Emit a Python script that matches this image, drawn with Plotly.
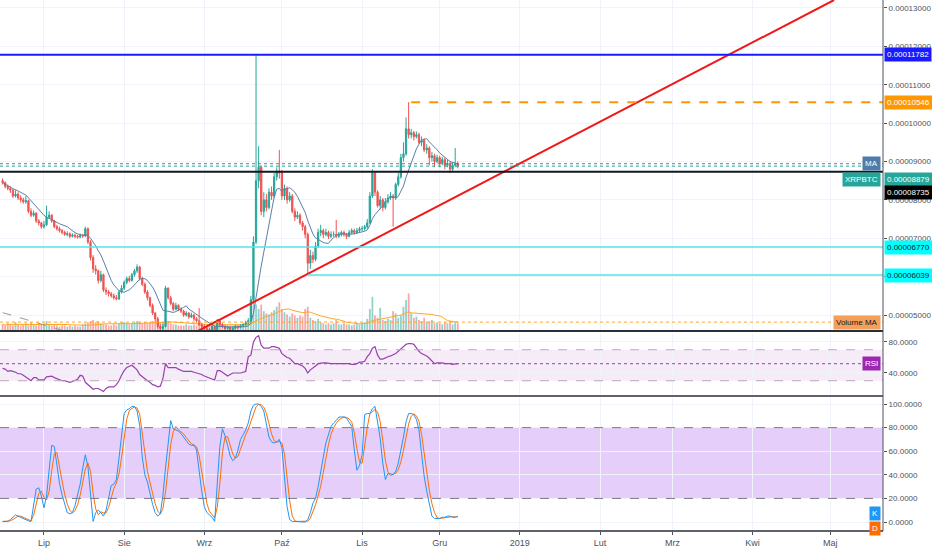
import pandas as pd
import plotly.graph_objects as go

FONT = "Liberation Sans"
SAT = 1e-8

# daily candles XRPBTC, values in satoshi, first candle 2018-06-15
start = "2018-06-15"
first_open = 8500
close = [
    8450, 8350, 8300, 8250, 8100, 8150, 8050, 8000, 7950, 7980, 7700, 7600, 7650, 7450, 7400, 7300,
    7350, 7550, 7600, 7450, 7300, 7250, 7200, 7150, 7100, 7120, 7050, 7080, 7050, 7030, 7070, 7060,
    7250, 6900, 6500, 6200, 6150, 5900, 6050, 5650, 5600, 5550, 5500, 5450, 5420, 5600, 5700,
    5850, 5950, 5900, 6050, 6150, 6250, 5950, 5800, 5600, 5450, 5250, 5050, 4900, 4700, 4650, 4700,
    5700, 5450, 5300, 5150, 5250, 5150, 5100, 5000, 5050, 4950, 5000, 4900, 4850, 4750, 4700,
    4650, 4620, 4600, 4700, 4620, 4850, 4750, 4700, 4650, 4680, 4620, 4650, 4700, 4680, 4720, 4750, 4800,
    4850, 5400, 6900, 8500, 8850, 7700, 8000, 7800, 8200, 8100, 8600, 8750, 8700,
    8100, 8300, 8000, 8100, 7700, 7550, 7600, 7400, 7300, 7100, 6350, 6550, 6450, 6800, 7150, 7200,
    7100, 7150, 7050, 7100, 7100, 7050, 7100, 7150, 7100, 7050, 7150, 7200, 7150, 7200, 7250,
    7250, 7300, 7400, 8100, 8700, 8200, 7850, 8000, 7800, 7950, 8050, 8100, 8050, 8400, 8600,
    9100, 9200, 9850, 9700, 9750, 9650, 9700, 9500, 9550, 9300, 9350, 9100, 9150, 9000, 9100,
    8950, 9050, 8900, 8950, 8800, 8900, 8950, 8879,
]
high = [
    8560, 8480, 8400, 8350, 8280, 8250, 8200, 8120, 8060, 8100,
    8000, 7780, 7720, 7680, 7500, 7430, 7450, 7850, 7700, 7630,
    7480, 7350, 7300, 7240, 7200, 7180, 7150, 7130, 7120, 7090,
    7120, 7110, 7300, 7280, 6950, 6560, 6300, 6180, 6150, 6080,
    5720, 5650, 5600, 5560, 5520, 5650, 5780, 5900, 6000, 6020,
    6100, 6200, 6320, 6280, 6000, 5850, 5650, 5480, 5300, 5080,
    4950, 4760, 4780, 5760, 5720, 5500, 5340, 5320, 5280, 5200,
    5140, 5100, 5080, 5060, 5030, 4950, 5180, 4800, 4750, 4700,
    4660, 4750, 4720, 4900, 4870, 4790, 4730, 4720, 4700, 4690,
    4740, 4730, 4760, 4790, 4850, 4920, 5500, 7050, 11782, 9400,
    8900, 8200, 8150, 8300, 8350, 8700, 8850, 9300, 8780, 8400,
    8350, 8200, 8150, 7780, 7700, 7650, 7450, 7350, 7150, 6700,
    6650, 6900, 7250, 7350, 7250, 7250, 7200, 7180, 7180, 7480,
    7160, 7200, 7200, 7140, 7220, 7260, 7250, 7270, 7300, 7320,
    7350, 7500, 8200, 8800, 8750, 8250, 8100, 8050, 8050, 8150,
    8200, 8150, 8450, 8700, 9200, 9500, 10150, 10546, 9850, 9800,
    9780, 9750, 9650, 9600, 9450, 9400, 9250, 9200, 9180, 9150,
    9120, 9100, 9050, 9000, 8980, 9350, 9000,
]
low = [
    8400, 8300, 8250, 8180, 8050, 8060, 8000, 7930, 7900, 7900,
    7650, 7550, 7560, 7400, 7330, 7250, 7250, 7320, 7500, 7400,
    7260, 7200, 7150, 7100, 7060, 7050, 7000, 7020, 7000, 6990,
    7000, 7010, 7030, 6850, 6420, 6100, 6050, 5820, 5850, 5600,
    5520, 5480, 5450, 5400, 5380, 5390, 5560, 5650, 5800, 5850,
    5870, 6000, 6100, 5900, 5750, 5550, 5380, 5200, 5000, 4820,
    4650, 4600, 4610, 4680, 5400, 5250, 5100, 5120, 5100, 5050,
    4950, 4960, 4900, 4920, 4850, 4800, 4720, 4650, 4600, 4590,
    4570, 4580, 4590, 4600, 4700, 4660, 4610, 4620, 4590, 4600,
    4620, 4640, 4650, 4690, 4720, 4760, 4830, 5350, 6850, 8300,
    7600, 7550, 7700, 7750, 8000, 8050, 8500, 8550, 8000, 8000,
    7900, 7950, 7650, 7450, 7500, 7350, 7200, 7000, 6040, 6200,
    6350, 6400, 6750, 7050, 7000, 7050, 6980, 7000, 7040, 7000,
    7010, 7050, 7040, 6980, 7020, 7100, 7100, 7120, 7150, 7180,
    7200, 7250, 7380, 8050, 8100, 7800, 7750, 7700, 7750, 7900,
    8000, 7300, 8000, 8350, 8550, 9000, 9150, 9600, 9600, 9550,
    9600, 9450, 9400, 9250, 9200, 8900, 9000, 8850, 8950, 8850,
    8900, 8800, 8850, 8700, 8750, 8850, 8820,
]
volume = [
    6, 5, 7, 6, 5, 8, 6, 5, 6, 7, 5, 8, 6, 5, 7, 6,
    7, 9, 6, 5, 6, 5, 4, 5, 5, 4, 5, 4, 5, 4, 4, 6,
    7, 8, 9, 10, 8, 9, 7, 6, 6, 5, 5, 6, 5, 7, 8,
    8, 7, 6, 7, 8, 9, 8, 7, 8, 7, 8, 9, 8, 9, 8, 7,
    11, 9, 7, 6, 6, 5, 5, 5, 6, 5, 5, 6, 5, 7, 6,
    6, 5, 6, 5, 5, 7, 5, 5, 6, 5, 5, 5, 6, 5, 5, 6, 6,
    10, 14, 33, 24, 20, 24, 18, 16, 15, 17, 19, 22, 26,
    20, 17, 15, 13, 16, 14, 12, 14, 13, 20, 22, 12, 10, 9, 11, 8,
    7, 6, 7, 6, 7, 10, 6, 6, 7, 6, 6, 5, 6, 7, 6,
    7, 8, 11, 20, 31, 14, 12, 21, 10, 9, 11, 10, 18, 16, 12,
    14, 22, 28, 34, 16, 12, 13, 10, 9, 12, 8, 9, 10, 7, 8,
    7, 6, 8, 7, 9, 6, 8, 7,
]
long_ma = [5060, 5045, 5020, 5005, 4985, 4960, 4945, 4925, 4900, 4885, 4860, 4845,
           4820, 4800, 4785, 4760, 4745, 4720, 4700, 4685, 4660, 4640, 4620, 4600]
rsi = [
    46, 45, 42, 43, 42, 41, 39, 39, 37, 35, 33, 30, 34, 34, 31, 31, 31, 35, 36, 36,
    34, 33, 31, 30, 30, 29, 28, 29, 30, 32, 37, 36, 28, 25, 22, 19, 20, 20, 18, 16,
    20, 22, 22, 22, 25, 30, 37, 43, 47, 49, 50, 47, 44, 38, 35, 32, 30, 28, 25, 24,
    22, 23, 33, 52, 47, 47, 47, 47, 45, 43, 42, 42, 42, 42, 41, 40, 40, 38, 36, 35,
    34, 32, 31, 43, 43, 41, 38, 36, 38, 40, 40, 40, 40, 41, 42, 61, 63, 80, 86, 88,
    76, 72, 72, 72, 74, 74, 73, 72, 65, 62, 60, 59, 55, 52, 52, 51, 49, 46, 40, 44,
    46, 49, 52, 53, 53, 53, 52, 52, 52, 52, 52, 52, 52, 52, 52, 51, 51, 52, 54, 54,
    55, 61, 65, 72, 74, 63, 58, 58, 60, 61, 62, 63, 65, 68, 71, 73, 77, 78, 78, 77,
    72, 68, 65, 64, 62, 59, 55, 52, 53, 53, 53, 52, 52, 52, 51, 52, 52,
]
stoch_k = [
    0.5, 0.5, 0.5, 2, 4, 6, 5, 4, 3, 1.5, 1, 0.5, 16, 28, 29, 22, 12, 22, 44, 65,
    64, 48, 33, 23, 15, 8, 7, 8, 14, 22, 32, 46, 57, 47, 25, 0.5, 8, 10, 8, 5,
    10, 22, 31, 32, 36, 54, 74, 92, 95, 96, 98, 98, 94, 82, 55, 40, 34, 24, 15, 8,
    5, 7, 23, 46, 65, 86, 79, 78, 77, 75, 72, 68, 66, 65, 65, 61, 43, 26, 13, 8,
    6, 4, 0.5, 33, 64, 79, 73, 65, 56, 52, 54, 61, 70, 74, 78, 84, 94, 99, 100, 100,
    98, 94, 84, 72, 68, 67, 68, 70, 63, 39, 13, 2, 0.5, 0.5, 0.5, 0.5, 0.3, 0, 2, 8,
    16, 20, 30, 41, 55, 67, 75, 81, 84, 86, 89, 89, 89, 88, 85, 81, 61, 44, 48, 57,
    91, 92, 92, 96, 98, 86, 71, 50, 36, 41, 41, 40, 43, 50, 60, 72, 85, 92, 92, 91,
    87, 78, 58, 39, 26, 16, 5, 3, 3, 3, 4, 4, 5, 5, 4, 4, 5,
]

# drawn levels (satoshi)
blue_level = 11782
orange_level = 10546
orange_from = "2018-11-20"
black_level = 8735
cyan_levels = [6770, 6039]
cyan_from = [None, "2018-10-11"]
trend_dates = ["2018-08-29 13:00", "2019-05-02 12:00"]
trend_vals = [4583, 13208]

month_ticks = ["2018-07-01", "2018-08-01", "2018-09-01", "2018-10-01", "2018-11-01", "2018-12-01",
               "2019-01-01", "2019-02-01", "2019-03-01", "2019-04-01", "2019-05-01"]
month_labels = ["Lip", "Sie", "Wrz", "Paź", "Lis", "Gru", "2019", "Lut", "Mrz", "Kwi", "Maj"]

x_end = "2019-05-21 10:00"

dates = pd.date_range(start, periods=len(close), freq="D")
opens = [first_open] + close[:-1]
ma = pd.Series(close).rolling(9, min_periods=1).mean()
vol_ma = pd.Series(volume).rolling(15, min_periods=1).mean()
stoch_d = pd.Series(stoch_k).rolling(3, min_periods=1).mean()

GREEN = "#26a69a"
RED = "#ef5350"
vol_colors = ["rgba(38,166,154,0.5)" if c >= o else "rgba(239,83,80,0.5)" for o, c in zip(opens, close)]

fig = go.Figure()
fig.add_trace(go.Bar(x=dates, y=volume, marker_color=vol_colors, marker_line_width=0,
                     xaxis="x", yaxis="y", showlegend=False))
fig.add_trace(go.Scatter(x=dates, y=vol_ma, mode="lines", line=dict(color="#ffa726", width=1),
                         xaxis="x", yaxis="y", showlegend=False))
fig.add_trace(go.Scatter(x=dates[:len(long_ma)], y=[v * SAT for v in long_ma], mode="lines",
                         line=dict(color="#9598a1", width=1, dash="dash"),
                         xaxis="x", yaxis="y2", showlegend=False))
fig.add_trace(go.Candlestick(
    x=dates, open=[v * SAT for v in opens], high=[v * SAT for v in high],
    low=[v * SAT for v in low], close=[v * SAT for v in close],
    increasing=dict(line=dict(color=GREEN, width=1), fillcolor=GREEN),
    decreasing=dict(line=dict(color=RED, width=1), fillcolor=RED),
    whiskerwidth=0, xaxis="x", yaxis="y2", showlegend=False))
fig.add_trace(go.Scatter(x=dates, y=ma * SAT, mode="lines", line=dict(color="#5b7fa6", width=1),
                         xaxis="x", yaxis="y2", showlegend=False))
fig.add_trace(go.Scatter(x=trend_dates, y=[v * SAT for v in trend_vals], mode="lines",
                         line=dict(color="#f01818", width=2), xaxis="x", yaxis="y2", showlegend=False))
fig.add_trace(go.Scatter(x=dates, y=rsi, mode="lines", line=dict(color="#9c3fb0", width=1.2),
                         xaxis="x", yaxis="y3", showlegend=False))
fig.add_trace(go.Scatter(x=dates, y=stoch_d, mode="lines", line=dict(color="#ff6d00", width=1),
                         xaxis="x", yaxis="y4", showlegend=False))
fig.add_trace(go.Scatter(x=dates, y=stoch_k, mode="lines", line=dict(color="#2196f3", width=1),
                         xaxis="x", yaxis="y4", showlegend=False))

H = 531.0


def py(px):
    return (H - px) / H


shapes = []


def hline(y, yref, color, width, dash="solid", x0=0, xref="paper", layer="above"):
    x1 = 1 if xref == "paper" else x_end
    shapes.append(dict(type="line", xref=xref, x0=x0, x1=x1, yref=yref, y0=y, y1=y,
                       line=dict(color=color, width=width, dash=dash), layer=layer))


# indicator bands
shapes.append(dict(type="rect", xref="paper", x0=0, x1=1, yref="y3", y0=30, y1=70,
                   fillcolor="rgba(156,39,176,0.09)", line_width=0, layer="below"))
shapes.append(dict(type="rect", xref="paper", x0=0, x1=1, yref="y4", y0=20, y1=80,
                   fillcolor="rgba(150,60,230,0.25)", line_width=0, layer="below"))
hline(70, "y3", "#b9a7c2", 1, "dash")
hline(30, "y3", "#b9a7c2", 1, "dash")
hline(80, "y4", "#787b86", 1, "dash")
hline(20, "y4", "#787b86", 1, "dash")
hline(rsi[-1], "y3", "#9c3fb0", 1, "dot")

# price levels
hline(blue_level * SAT, "y2", "#1a1aff", 2)
hline(orange_level * SAT, "y2", "#ff9800", 2, "dash", x0=orange_from, xref="x")
hline(black_level * SAT, "y2", "#131722", 2)
for lv, frm in zip(cyan_levels, cyan_from):
    if frm is None:
        hline(lv * SAT, "y2", "#55e3ee", 1.5)
    else:
        hline(lv * SAT, "y2", "#55e3ee", 1.5, x0=frm, xref="x")
hline(close[-1] * SAT, "y2", GREEN, 1, "dot")
hline(ma.iloc[-1] * SAT, "y2", "#5b7fa6", 1, "dot")
hline(vol_ma.iloc[-1], "y", "#ffa726", 1, "dot")

# pane separators and right scale line
for p, w in [(331, 2), (396, 1.5), (531, 1.5)]:
    shapes.append(dict(type="line", xref="paper", x0=0, x1=1, yref="paper", y0=py(p), y1=py(p),
                       line=dict(color="#2a2e39", width=w)))
shapes.append(dict(type="line", xref="paper", x0=1, x1=1, yref="paper", y0=0, y1=1,
                   line=dict(color="#50535e", width=1)))

annotations = []


def tag(text, y, yref, bg, fg="white", inside=False, yshift=0):
    annotations.append(dict(
        text=text, x=1, xref="paper", xanchor="right" if inside else "left",
        xshift=-2 if inside else 1, y=y, yref=yref, yanchor="middle", yshift=yshift,
        showarrow=False, bgcolor=bg, borderpad=2,
        font=dict(color=fg, size=8, family=FONT)))


def fmt(v):
    return f"{v * SAT:.8f}"


tag(fmt(blue_level), blue_level * SAT, "y2", "#1a1aff")
tag(fmt(orange_level), orange_level * SAT, "y2", "#ff9800")
tag("MA", ma.iloc[-1] * SAT, "y2", "#4f7ca8", inside=True)
tag("XRPBTC", close[-1] * SAT, "y2", GREEN, inside=True, yshift=-13)
tag(fmt(close[-1]), close[-1] * SAT, "y2", GREEN, yshift=-13)
tag(fmt(black_level), black_level * SAT, "y2", "#000000", yshift=-21)
for lv in cyan_levels:
    tag(fmt(lv), lv * SAT, "y2", "#00ffff", fg="#131722")
tag("Volume MA", vol_ma.iloc[-1], "y", "#f5a05a", fg="#131722", inside=True)
tag("RSI", rsi[-1], "y3", "#9c27b0", inside=True)
tag("K", stoch_k[-1], "y4", "#2196f3", inside=True, yshift=3)
tag("D", stoch_d.iloc[-1], "y4", "#ff6d00", inside=True, yshift=-12)

axis_font = dict(family=FONT, size=8, color="#4c525e")
grid = "#f0f3fa"

fig.update_layout(
    width=932, height=550,
    margin=dict(l=0, r=49, t=0, b=19),
    paper_bgcolor="white", plot_bgcolor="white",
    bargap=0.3,
    showlegend=False,
    shapes=shapes,
    annotations=annotations,
    xaxis=dict(type="date", range=[pd.Timestamp("2018-06-14"), pd.Timestamp(x_end)],
               domain=[0, 1], anchor="y4", tickvals=month_ticks, ticktext=month_labels,
               showgrid=True, gridcolor=grid, ticks="outside", ticklen=3, tickcolor="#50535e",
               tickfont=dict(family=FONT, size=9, color="#4c525e"), zeroline=False,
               rangeslider=dict(visible=False), fixedrange=True),
    yaxis=dict(domain=[py(331), 1], range=[0, 300], visible=False, showgrid=False, fixedrange=True),
    yaxis2=dict(overlaying="y", side="right", anchor="x",
                range=[4583 * SAT, 13208 * SAT],
                tickvals=[v * 1e-5 for v in range(5, 14)], tickformat=".8f",
                showgrid=True, gridcolor=grid, zeroline=False,
                ticks="outside", ticklen=3, tickcolor="#50535e", tickfont=axis_font),
    yaxis3=dict(domain=[py(396), py(333)], range=[10.3, 91.6], side="right", anchor="x",
                tickvals=[40, 80], ticktext=["40.0000", "80.0000"],
                showgrid=True, gridcolor=grid, zeroline=False,
                ticks="outside", ticklen=3, tickcolor="#50535e", tickfont=axis_font),
    yaxis4=dict(domain=[0, py(398)], range=[-7.6, 105.1], side="right", anchor="x",
                tickvals=[0, 20, 40, 60, 80, 100],
                ticktext=["0.0000", "20.0000", "40.0000", "60.0000", "80.0000", "100.0000"],
                showgrid=True, gridcolor=grid, zeroline=False,
                ticks="outside", ticklen=3, tickcolor="#50535e", tickfont=axis_font),
)

# drop the page's default body margin so the chart sits in the window corner
fig.write_html("out.html", config={"displayModeBar": False},
               post_script="document.body.style.margin='0';")
